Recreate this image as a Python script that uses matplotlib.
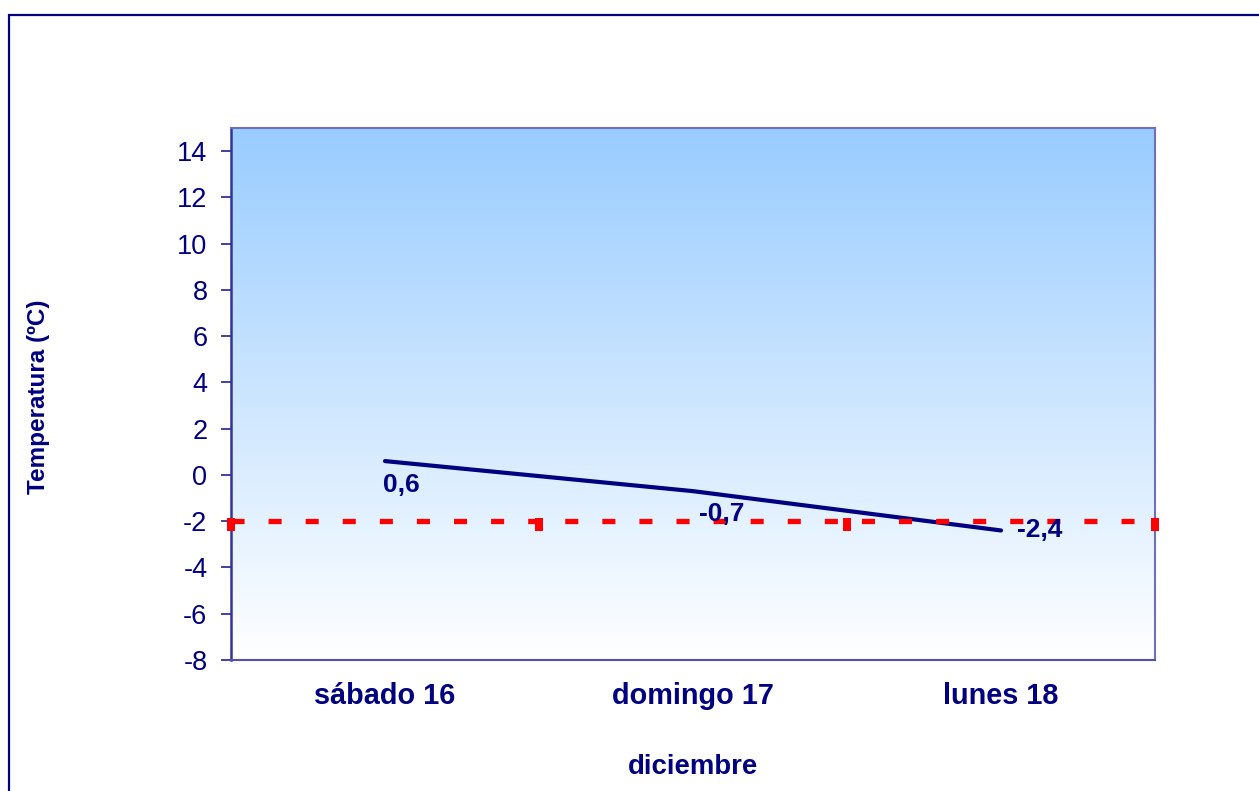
import numpy as np
import matplotlib
matplotlib.use('Agg')
import matplotlib.pyplot as plt
from matplotlib.path import Path
from matplotlib.patches import Rectangle
from matplotlib.colors import LinearSegmentedColormap

plt.rcParams['font.family'] = ['Liberation Sans', 'DejaVu Sans']
plt.rcParams['lines.scale_dashes'] = False
plt.rcParams['axes.unicode_minus'] = False

# datos
dias = ['sábado 16', 'domingo 17', 'lunes 18']
temperatura = [0.6, -0.7, -2.4]
etiquetas = ['0,6', '-0,7', '-2,4']
umbral = -2
umbral_x = [0.5, 1.5, 2.5, 3.5]

navy = '#000080'

fig = plt.figure(figsize=(12.59, 7.91), dpi=100)
ax = fig.add_axes([231/1259, 1-660/791, (1155-231)/1259, (660-128)/791])

# fondo degradado azul -> blanco
cmap = LinearSegmentedColormap.from_list('fondo', ['#ffffff', '#99ccff'])
grad = np.linspace(0, 1, 256).reshape(-1, 1)
ax.imshow(grad, cmap=cmap, origin='lower', aspect='auto',
          extent=[0, 1, 0, 1], transform=ax.transAxes, zorder=0)

x = np.arange(1, len(dias) + 1)
ax.plot(x, temperatura, color=navy, lw=3, solid_capstyle='round', zorder=3)

# linea de umbral roja con marcas
marca = Path([(-3.5, -9.5), (3.5, -9.5), (3.5, 2.5), (-3.5, 2.5), (-3.5, -9.5)],
             [Path.MOVETO, Path.LINETO, Path.LINETO, Path.LINETO, Path.CLOSEPOLY])
ax.plot(umbral_x, [umbral] * len(umbral_x), color='#ff0000', lw=3.8,
        dashes=(9.4, 17.3), marker=marca, markersize=13.7,
        markerfacecolor='#ff0000', markeredgewidth=0, clip_on=False, zorder=4)

offsets = [(-2, -24), (6, -23), (16, 0)]
for xi, yi, txt, off in zip(x, temperatura, etiquetas, offsets):
    ax.annotate(txt, (xi, yi), xytext=off, textcoords='offset pixels',
                ha='left', va='center', fontsize=19, fontweight='bold',
                color=navy, zorder=5)

ax.set_xlim(0.5, 3.5)
ax.set_ylim(-8, 15)
ax.set_yticks(range(-8, 15, 2))
ax.set_xticks(x)
ax.set_xticklabels(dias, fontsize=20.8, fontweight='bold', color=navy)
ax.tick_params(axis='x', length=0, pad=16)
ax.tick_params(axis='y', length=7, width=1.3, color='#333399', pad=10,
               labelsize=19.5, labelcolor=navy)

ax.spines['left'].set_color('#333399')
ax.spines['left'].set_linewidth(1.8)
ax.spines['bottom'].set_color('#5050a8')
ax.spines['bottom'].set_linewidth(1.5)
for s in ['top', 'right']:
    ax.spines[s].set_color('#7070b8')
    ax.spines[s].set_linewidth(1.5)

fig.text(693/1259, 1-767/791, 'diciembre', ha='center', va='center',
         fontsize=19.8, fontweight='bold', color=navy)
fig.text(39/1259, 1-397/791, 'Temperatura (ºC)', ha='center', va='center',
         rotation=90, fontsize=17.5, fontweight='bold', color=navy)

# borde exterior
fig.patches.append(Rectangle((9/1259, -0.1), 1.2, 1-15/791+0.1,
                             transform=fig.transFigure, fill=False,
                             edgecolor=navy, lw=1.6))

fig.savefig('out.png', dpi=100)
